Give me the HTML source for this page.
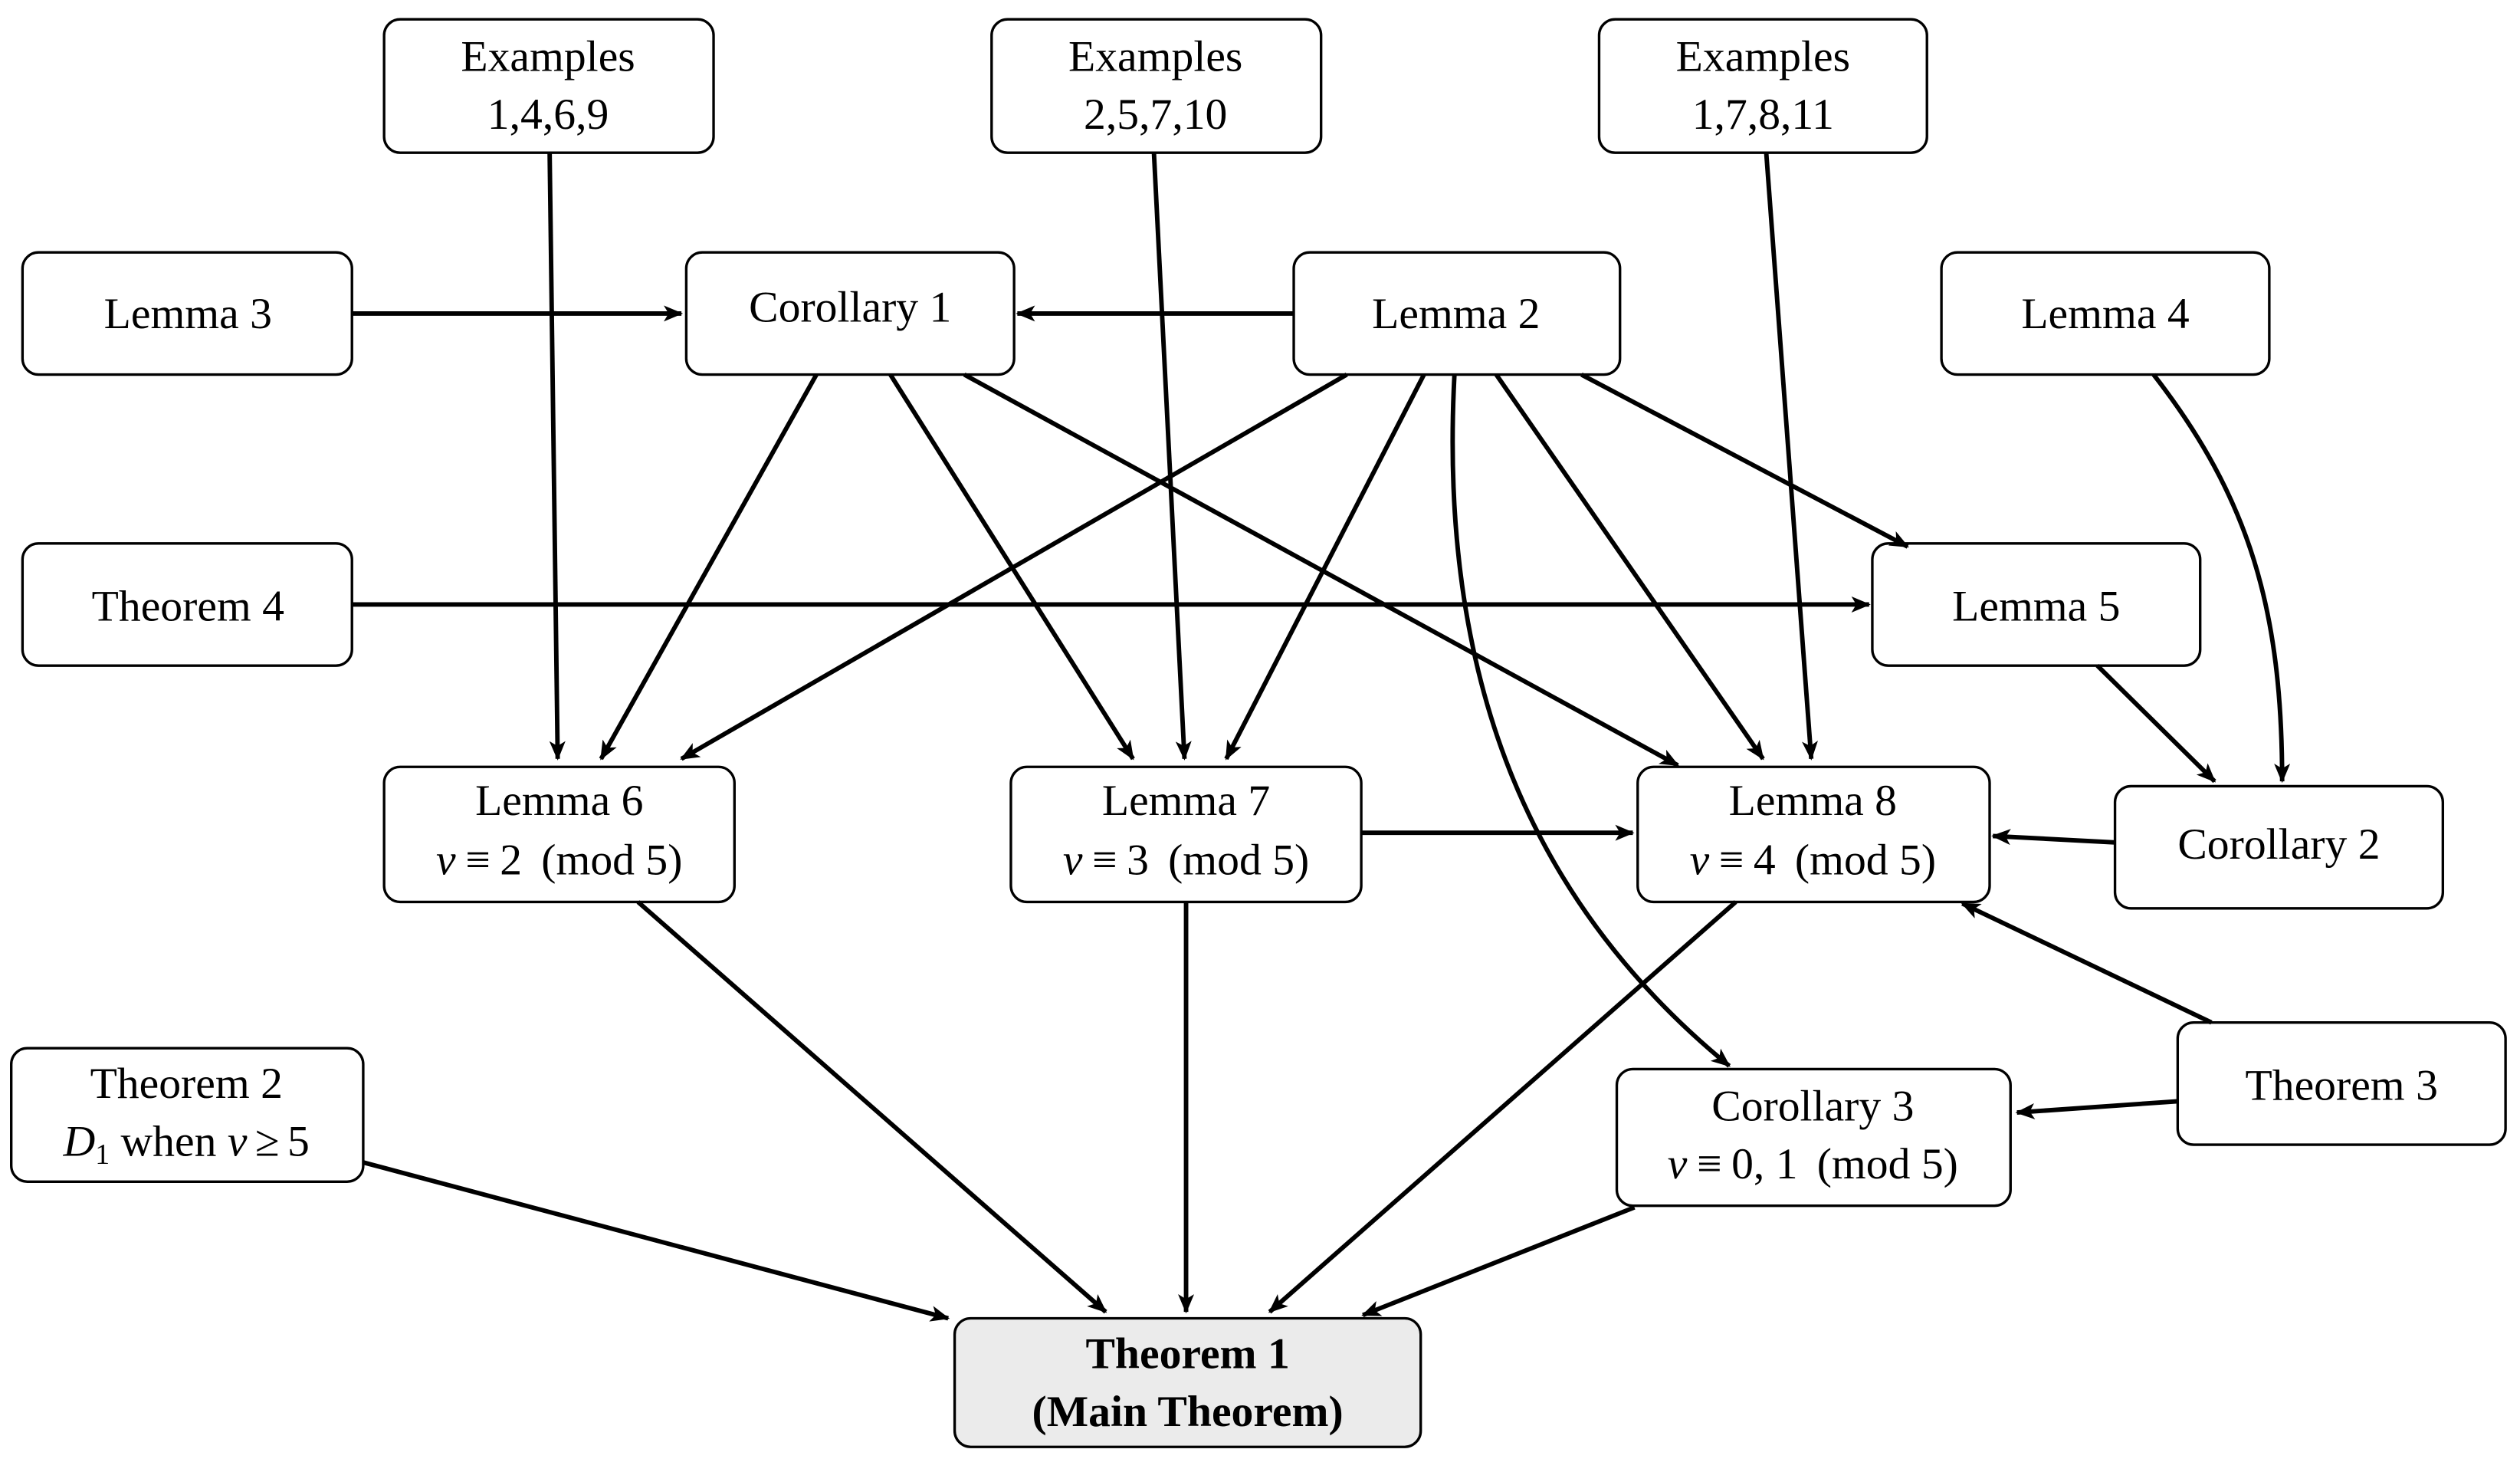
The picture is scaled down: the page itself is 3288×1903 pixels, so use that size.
<!DOCTYPE html>
<html><head><meta charset="utf-8"><style>
html,body{margin:0;padding:0;background:#fff}
svg{display:block}
text{font-family:"Liberation Serif",serif;font-size:27.5px;fill:#000}
</style></head><body>
<svg width="3288" height="1903" viewBox="0 0 1568 907.5" xmlns="http://www.w3.org/2000/svg">
<defs>
<marker id="a" viewBox="0 0 12 10" refX="11" refY="5" markerWidth="12" markerHeight="10" markerUnits="userSpaceOnUse" orient="auto">
<path d="M0,0 L12,5 L0,10 L3,5 Z" fill="#000"/>
</marker>
</defs>
<g fill="#fff" stroke="#000" stroke-width="1.6">
<rect x="239" y="12" width="205" height="83" rx="10"/>
<rect x="617" y="12" width="205" height="83" rx="10"/>
<rect x="995" y="12" width="204" height="83" rx="10"/>
<rect x="14" y="157" width="205" height="76" rx="10"/>
<rect x="427" y="157" width="204" height="76" rx="10"/>
<rect x="805" y="157" width="203" height="76" rx="10"/>
<rect x="1208" y="157" width="204" height="76" rx="10"/>
<rect x="14" y="338" width="205" height="76" rx="10"/>
<rect x="1165" y="338" width="204" height="76" rx="10"/>
<rect x="239" y="477" width="218" height="84" rx="10"/>
<rect x="629" y="477" width="218" height="84" rx="10"/>
<rect x="1019" y="477" width="219" height="84" rx="10"/>
<rect x="1316" y="489" width="204" height="76" rx="10"/>
<rect x="7" y="652" width="219" height="83" rx="10"/>
<rect x="1006" y="665" width="245" height="85" rx="10"/>
<rect x="1355" y="636" width="204" height="76" rx="10"/>
<rect x="594" y="820" width="290" height="80" rx="10" fill="#ebebeb"/>
</g>
<g stroke="#000" stroke-width="2.8" fill="none" marker-end="url(#a)">
<line x1="342" y1="95" x2="347" y2="472"/>
<line x1="718" y1="95" x2="737" y2="472"/>
<line x1="1099" y1="95" x2="1127" y2="472"/>
<line x1="219" y1="195" x2="424" y2="195"/>
<line x1="805" y1="195" x2="633" y2="195"/>
<line x1="508" y1="233" x2="374" y2="472"/>
<line x1="554" y1="233" x2="705" y2="472"/>
<line x1="600" y1="233" x2="1044" y2="476"/>
<line x1="838" y1="233" x2="424" y2="472"/>
<line x1="886" y1="233" x2="763" y2="472"/>
<path d="M905,233 C895,420 950,560 1076,663"/>
<line x1="931" y1="233" x2="1097" y2="472"/>
<line x1="984" y1="233" x2="1187" y2="340"/>
<path d="M1340,233 C1400,310 1420,380 1420,486"/>
<line x1="219" y1="376" x2="1163" y2="376"/>
<line x1="1305" y1="414" x2="1378" y2="486"/>
<line x1="1316" y1="524" x2="1240" y2="520"/>
<line x1="847" y1="518" x2="1016" y2="518"/>
<line x1="1376" y1="636" x2="1221" y2="562"/>
<line x1="1355" y1="685" x2="1255" y2="692"/>
<line x1="397" y1="561" x2="688" y2="816"/>
<line x1="738" y1="561" x2="738" y2="816"/>
<line x1="1080" y1="561" x2="790" y2="816"/>
<line x1="1017" y1="751" x2="848" y2="818"/>
<line x1="226" y1="723" x2="590" y2="820"/>
</g>
<g text-anchor="middle">
<text x="341" y="44">Examples</text><text x="341" y="80">1,4,6,9</text>
<text x="719" y="44">Examples</text><text x="719" y="80">2,5,7,10</text>
<text x="1097" y="44">Examples</text><text x="1097" y="80">1,7,8,11</text>
<text x="117" y="204">Lemma 3</text>
<text x="529" y="200">Corollary 1</text>
<text x="906" y="204">Lemma 2</text>
<text x="1310" y="204">Lemma 4</text>
<text x="117" y="386">Theorem 4</text>
<text x="1267" y="386">Lemma 5</text>
<text x="348" y="507">Lemma 6</text><text x="348" y="544"><tspan font-style="italic">v</tspan><tspan dx="6">≡</tspan><tspan dx="6">2</tspan><tspan dx="12">(mod 5)</tspan></text>
<text x="738" y="507">Lemma 7</text><text x="738" y="544"><tspan font-style="italic">v</tspan><tspan dx="6">≡</tspan><tspan dx="6">3</tspan><tspan dx="12">(mod 5)</tspan></text>
<text x="1128" y="507">Lemma 8</text><text x="1128" y="544"><tspan font-style="italic">v</tspan><tspan dx="6">≡</tspan><tspan dx="6">4</tspan><tspan dx="12">(mod 5)</tspan></text>
<text x="1418" y="534">Corollary 2</text>
<text x="116" y="683">Theorem 2</text><text x="116" y="719"><tspan font-style="italic">D</tspan><tspan font-size="18" dy="5">1</tspan><tspan dy="-5"> when </tspan><tspan font-style="italic">v</tspan><tspan dx="5">≥</tspan><tspan dx="5">5</tspan></text>
<text x="1128" y="697">Corollary 3</text><text x="1128" y="733"><tspan font-style="italic">v</tspan><tspan dx="6">≡</tspan><tspan dx="6">0, 1</tspan><tspan dx="12">(mod 5)</tspan></text>
<text x="1457" y="684">Theorem 3</text>
<text x="739" y="851" font-weight="bold">Theorem 1</text><text x="739" y="887" font-weight="bold">(Main Theorem)</text>
</g>
</svg>
</body></html>
